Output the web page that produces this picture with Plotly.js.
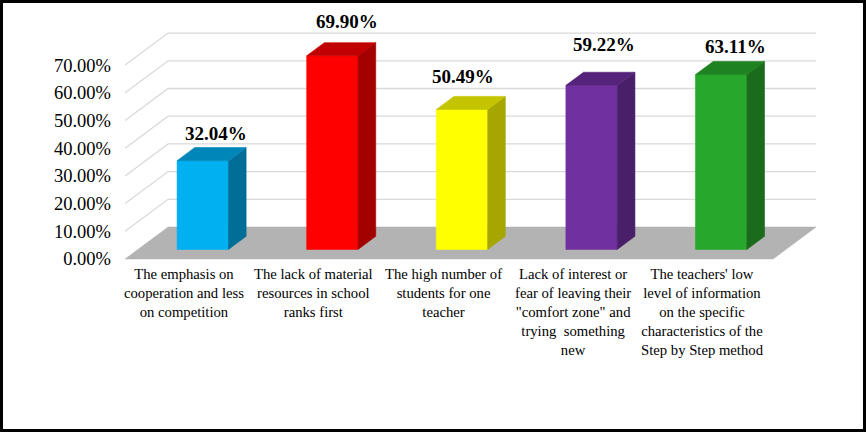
<!DOCTYPE html>
<html>
<head>
<meta charset="utf-8">
<script src="https://cdn.plot.ly/plotly-3.0.1.min.js"></script>
<style>
  html, body { margin: 0; padding: 0; background: #fff; }
  #wrap { position: relative; width: 866px; height: 432px; }
  #chart { width: 866px; height: 432px; }
  #wrap::after { content: ""; position: absolute; left: 0; top: 0; right: 0; bottom: 0;
    border: 3px solid #000; box-sizing: border-box; pointer-events: none; }
</style>
</head>
<body>
<div id="wrap"><div id="chart"></div></div>
<script>
// ---------- data ----------
const categories = [
  'The emphasis on<br>cooperation and less<br>on competition',
  'The lack of material<br>resources in school<br>ranks first',
  'The high number of<br>students for one<br>teacher',
  'Lack of interest or<br>fear of leaving their<br>"comfort zone" and<br>trying  something<br>new',
  "The teachers' low<br>level of information<br>on the specific<br>characteristics of the<br>Step by Step method"
];
const values = [32.04, 69.90, 50.49, 59.22, 63.11];
const yTicks = [0, 10, 20, 30, 40, 50, 60, 70];
const yTickLabels = ['0.00%', '10.00%', '20.00%', '30.00%', '40.00%', '50.00%', '60.00%', '70.00%'];

// ---------- styles ----------
const SERIF = 'Liberation Serif';
const frontColors = ['#00B0F0', '#FF0000', '#FFFF00', '#7030A0', '#27A72B'];
const topColors   = ['#0086B8', '#C00000', '#C4C400', '#55247A', '#1E8221'];
const sideColors  = ['#006E97', '#A30000', '#A6A600', '#4A1F69', '#1A6C1C'];
const labelXShift = [13, 15, 1, 12, 14];
const labelYShift = [27.5, 34.7, 33.4, 41, 28.5];

// ---------- projection geometry (pixels) ----------
const W = 866, H = 432;
const ML = 112, MR = 8, MT = 6, MB = 166;
const PX_X = 129.6, X0PX = 189.9;
const PX_Y = 2.77, Y0PX = 259;
const DX = 43 / PX_X, DY = 32 / PX_Y;
const F1 = 0.30, FD = 0.41;
const HW = 25.7 / PX_X;

const xRange = [(ML - X0PX) / PX_X, (W - MR - X0PX) / PX_X];
const yRange = [(Y0PX - (H - MB)) / PX_Y, (Y0PX - MT) / PX_Y];

const n = categories.length;
const xL = -0.5, xR = n - 0.5;
const traces = [];

// gridlines: back wall + left wall
const gx = [], gy = [];
yTicks.forEach(t => {
  if (t === 0) return;
  gx.push(xL, xL + DX, xR + DX, null);
  gy.push(t, t + DY, t + DY, null);
});
traces.push({type: 'scatter', mode: 'lines', x: gx, y: gy,
  line: {color: '#D9D9D9', width: 1.3}, hoverinfo: 'skip', showlegend: false});

// floor
traces.push({type: 'scatter', mode: 'lines', fill: 'toself', fillcolor: '#B3B3B3',
  x: [xL, xR, xR + DX, xL + DX, xL], y: [0, 0, DY, DY, 0],
  line: {color: '#B3B3B3', width: 0.5}, hoverinfo: 'skip', showlegend: false});

// bars
const annotations = [];
values.forEach((v, i) => {
  const c = i + F1 * DX, b = F1 * DY;
  const ox = FD * DX, oy = FD * DY;
  const faces = [
    {x: [c - HW, c + HW, c + HW, c - HW, c - HW], y: [b, b, b + v, b + v, b], col: frontColors[i]},
    {x: [c + HW, c + HW + ox, c + HW + ox, c + HW, c + HW], y: [b, b + oy, b + v + oy, b + v, b], col: sideColors[i]},
    {x: [c - HW, c + HW, c + HW + ox, c - HW + ox, c - HW], y: [b + v, b + v, b + v + oy, b + v + oy, b + v], col: topColors[i]}
  ];
  faces.forEach(f => traces.push({type: 'scatter', mode: 'lines', fill: 'toself',
    fillcolor: f.col, x: f.x, y: f.y, line: {color: f.col, width: 0.6},
    hoverinfo: 'skip', showlegend: false}));

  annotations.push({xref: 'x', yref: 'y', x: c, y: b + v,
    xshift: labelXShift[i], yshift: labelYShift[i],
    text: '<b>' + v.toFixed(2) + '%</b>', showarrow: false,
    xanchor: 'center', yanchor: 'middle',
    font: {family: SERIF, size: 19, color: '#000'}});

  annotations.push({xref: 'x', yref: 'y', x: i, y: 0, xshift: -6, yshift: -4.5,
    text: categories[i], showarrow: false, xanchor: 'center', yanchor: 'top', align: 'center',
    font: {family: SERIF, size: 14.7, color: '#000'}});
});

const layout = {
  width: W, height: H,
  margin: {l: ML, r: MR, t: MT, b: MB, pad: 0},
  paper_bgcolor: '#fff', plot_bgcolor: 'rgba(0,0,0,0)',
  font: {family: SERIF, color: '#000'},
  showlegend: false, hovermode: false,
  xaxis: {range: xRange, visible: false, fixedrange: true},
  yaxis: {range: yRange, showgrid: false, zeroline: false, showline: false, ticks: '',
    tickmode: 'array', tickvals: yTicks, ticktext: yTickLabels, fixedrange: true,
    tickfont: {family: SERIF, size: 18.5, color: '#000'}},
  annotations: annotations
};

Plotly.newPlot('chart', traces, layout, {displayModeBar: false, staticPlot: true});
</script>
</body>
</html>
